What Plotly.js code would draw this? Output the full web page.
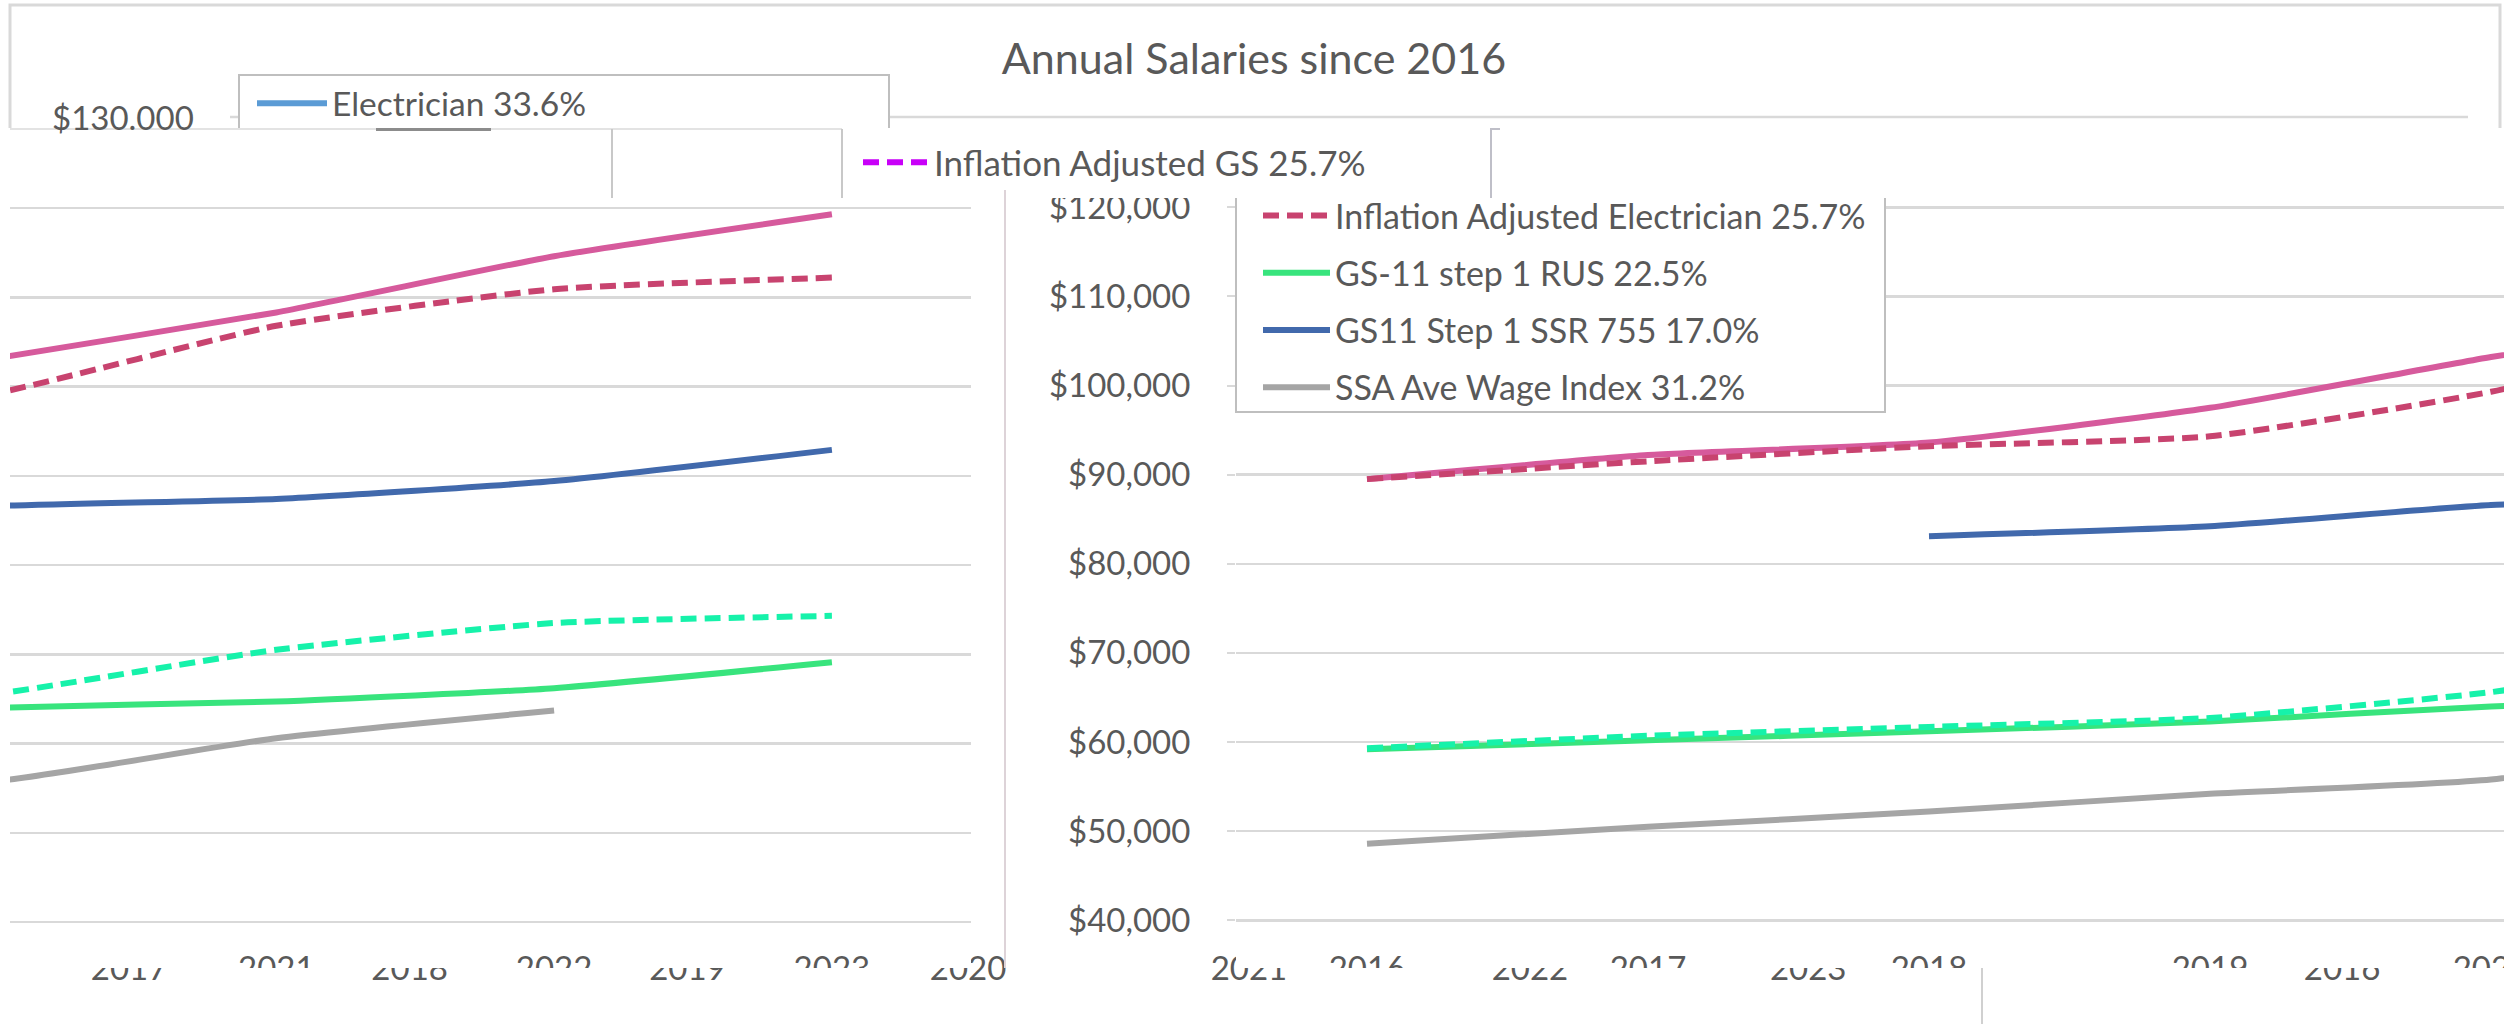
<!DOCTYPE html>
<html>
<head>
<meta charset="utf-8">
<script src="https://cdn.plot.ly/plotly-3.0.1.min.js"></script>
<style>html,body{margin:0;padding:0;background:#fff;}#chart{width:2504px;height:1024px;}</style>
</head>
<body>
<div id="chart"></div>
<script>
// ---------- data ----------
const years = [2016, 2017, 2018, 2019, 2020, 2021, 2022, 2023];
const electrician   = [89500, 92200, 93600, 97500, 103200, 108300, 114600, 119300];
const inflAdjElec   = [89500, 91500, 93200, 94300, 99300, 106800, 110900, 112200];
const gs11Rus       = [59200, 60200, 61200, 62300, 64000, 64700, 66200, 69100];
const inflAdjGS     = [59300, 60700, 61700, 62700, 65600, 70500, 73500, 74300];
const gs11Ssr       = [null, null, 83100, 84200, 86600, 87400, 89400, 92900];
const ssaWage       = [48600, 50500, 52200, 54200, 55800, 60600, 63700, null];

const leftTicks  = [2021, 2022, 2023];
const rightTicks = [2016, 2017, 2018, 2019, 2020];
const ghostLeftPos   = [2020.47, 2021.48, 2022.48, 2023.49];
const ghostLeftText  = ['2017', '2018', '2019', '2020'];
const ghostRightPos  = [2015.58, 2016.58, 2017.57, 2019.47];
const ghostRightText = ['2021', '2022', '2023', '2016'];

const names = {
  elec: 'Electrician 33.6%',
  inflGS: 'Inflation Adjusted GS 25.7%',
  inflElec: 'Inflation Adjusted Electrician 25.7%',
  rus: 'GS-11 step 1 RUS 22.5%',
  ssr: 'GS11 Step 1 SSR 755 17.0%',
  ssa: 'SSA Ave Wage Index 31.2%'
};

// ---------- geometry helpers ----------
const W = 2504, H = 1024;
const px = x => x / W;
const py = y => 1 - y / H;
const FONT = 'Lato, "Open Sans", sans-serif';
const TXT = '#595959';
const GRID = '#D9D9D9';

const colors = {
  elecPink: '#D65A9C', inflElec: '#C8436F', ssr: '#4169AC',
  rus: '#38E47D', inflGS: '#16F2AA', ssa: '#A5A5A5',
  legElec: '#5B9BD5', legInflGS: '#C800F8'
};
const LW = 6;
const DASH = '16px,8px';

function series(y, color, dash, name, xa, ya, extra) {
  return Object.assign({
    type: 'scatter', mode: 'lines', x: years, y: y, name: name,
    xaxis: xa, yaxis: ya, connectgaps: false, showlegend: false,
    line: {color: color, width: LW, dash: dash, shape: 'spline', smoothing: 0.5},
    hoverinfo: 'skip'
  }, extra || {});
}

const traces = [];
// left panel
traces.push(series(electrician, colors.elecPink, 'solid', names.elec, 'x', 'y'));
traces.push(series(inflAdjElec, colors.inflElec, DASH, names.inflElec, 'x', 'y'));
traces.push(series(gs11Ssr, colors.ssr, 'solid', names.ssr, 'x', 'y'));
traces.push(series(inflAdjGS, colors.inflGS, DASH, names.inflGS, 'x', 'y'));
traces.push(series(gs11Rus, colors.rus, 'solid', names.rus, 'x', 'y'));
traces.push(series(ssaWage, colors.ssa, 'solid', names.ssa, 'x', 'y'));
// right panel
traces.push(series(electrician, colors.elecPink, 'solid', names.elec, 'x2', 'y2'));
traces.push(series(inflAdjElec, colors.inflElec, DASH, names.inflElec, 'x2', 'y2',
  {showlegend: true, legend: 'legend3', legendgroup: 'g1'}));
traces.push(series(gs11Rus, colors.rus, 'solid', names.rus, 'x2', 'y2',
  {showlegend: true, legend: 'legend3', legendgroup: 'g2'}));
traces.push(series(gs11Ssr, colors.ssr, 'solid', names.ssr, 'x2', 'y2',
  {showlegend: true, legend: 'legend3', legendgroup: 'g3'}));
traces.push(series(ssaWage, colors.ssa, 'solid', names.ssa, 'x2', 'y2',
  {showlegend: true, legend: 'legend3', legendgroup: 'g4'}));
traces.push(series(inflAdjGS, colors.inflGS, DASH, names.inflGS, 'x2', 'y2'));
// legend-only entries of the overlapping legends
traces.push({type: 'scatter', mode: 'lines', x: [null], y: [null], xaxis: 'x', yaxis: 'y',
  name: names.elec, showlegend: true, legend: 'legend',
  line: {color: colors.legElec, width: LW}});
traces.push({type: 'scatter', mode: 'lines', x: [null], y: [null], xaxis: 'x', yaxis: 'y',
  name: names.inflGS, showlegend: true, legend: 'legend2',
  line: {color: colors.legInflGS, width: LW, dash: DASH}});

// ---------- axes ----------
const tickFont = {family: FONT, size: 33, color: TXT};
const XSTAND = 16;
const leftRange  = [2020 + 11.5 / 277.8, 2020 + 972.5 / 277.8];
const rightRange = [2016 - (1367 - 1236) / 281, 2016 + (2504 - 1367) / 281];
const yLeftRange  = [40000 - 8 / 8.925 * 1000, 120000 + 8 / 8.925 * 1000];
const yRightRange = [40000 - 9.7 / 8.9125 * 1000, 120000 + 7.3 / 8.9125 * 1000];
const yDomain = [py(930), py(200)];

function xAxis(domain, range, ticks, anchor) {
  return {domain: domain, range: range, anchor: anchor, tickmode: 'array', tickvals: ticks,
    ticktext: ticks.map(String), showgrid: false, zeroline: false, showline: false, ticks: '',
    tickfont: tickFont, ticklabelstandoff: XSTAND, ticklabeloverflow: 'allow', fixedrange: true};
}
function ghostAxis(over, anchor, range, pos, text) {
  return {overlaying: over, anchor: anchor, range: range, tickmode: 'array', tickvals: pos,
    ticktext: text, showgrid: false, zeroline: false, showline: false, ticks: '',
    tickfont: tickFont, ticklabelstandoff: XSTAND, ticklabeloverflow: 'allow', side: 'bottom'};
}

const legFont = s => ({family: FONT, size: s, color: TXT});

const layout = {
  width: W, height: H, margin: {l: 0, r: 0, t: 0, b: 0, pad: 0},
  paper_bgcolor: '#ffffff', plot_bgcolor: 'rgba(0,0,0,0)',
  showlegend: true,
  title: {text: 'Annual Salaries since 2016', x: px(1254), xanchor: 'center',
    y: py(59), yanchor: 'middle', font: {family: FONT, size: 43, color: TXT}},
  xaxis: xAxis([px(10), px(971)], leftRange, leftTicks, 'y'),
  xaxis2: xAxis([px(1236), 1], rightRange, rightTicks, 'y2'),
  xaxis3: ghostAxis('x', 'y', leftRange, ghostLeftPos, ghostLeftText),
  xaxis4: ghostAxis('x2', 'y2', rightRange, ghostRightPos, ghostRightText),
  yaxis: {domain: yDomain, range: yLeftRange, anchor: 'x', tickmode: 'linear', tick0: 40000,
    dtick: 10000, showgrid: true, gridcolor: GRID, gridwidth: 2.5, zeroline: false,
    showticklabels: false, ticks: '', showline: false},
  yaxis2: {domain: yDomain, range: yRightRange, anchor: 'x2', tickmode: 'linear', tick0: 40000,
    dtick: 10000, showgrid: true, gridcolor: GRID, gridwidth: 2.5, zeroline: false,
    ticks: 'outside', ticklen: 8, tickwidth: 2, tickcolor: GRID, showline: false,
    tickprefix: '$', tickformat: ',.0f', tickfont: tickFont, ticklabelstandoff: 30},
  legend: {x: px(252), y: py(75), xanchor: 'left', yanchor: 'top', bgcolor: 'rgba(0,0,0,0)',
    borderwidth: 0, font: legFont(33.5), itemwidth: 70},
  legend2: {x: px(858), y: py(133), xanchor: 'left', yanchor: 'top', bgcolor: 'rgba(0,0,0,0)',
    borderwidth: 0, font: legFont(35), itemwidth: 66},
  legend3: {x: px(1258), y: py(187), xanchor: 'left', yanchor: 'top', bgcolor: 'rgba(0,0,0,0)',
    borderwidth: 0, font: legFont(34), itemwidth: 67,
    traceorder: 'grouped', tracegroupgap: 10},
  annotations: [
    {xref: 'paper', yref: 'paper', x: px(196), y: py(117), xanchor: 'right', yanchor: 'middle',
     text: '$130.000', showarrow: false, font: {family: FONT, size: 33, color: TXT}}
  ],
  shapes: []
};

const S = layout.shapes;
function pline(x0, y0, x1, y1, color, width) {
  S.push({type: 'line', xref: 'paper', yref: 'paper', x0: px(x0), y0: py(y0), x1: px(x1), y1: py(y1),
    line: {color: color, width: width}, layer: 'above'});
}
function prect(x0, y0, x1, y1, fill, lineColor, lw) {
  S.push({type: 'rect', xref: 'paper', yref: 'paper', x0: px(x0), y0: py(y0), x1: px(x1), y1: py(y1),
    fillcolor: fill, line: {color: lineColor || 'rgba(0,0,0,0)', width: lw || 0}, layer: 'above'});
}
// title chart frame
S.push({type: 'path', xref: 'paper', yref: 'paper', layer: 'above',
  path: 'M ' + px(10) + ' ' + py(128) + ' L ' + px(10) + ' ' + py(5) + ' L ' + px(2500) + ' ' + py(5) +
        ' L ' + px(2500) + ' ' + py(128), line: {color: GRID, width: 3}});
pline(230, 117, 2468, 117, GRID, 2.5);
// legend boxes
prect(239, 75, 889, 140, '#ffffff', '#BFBFBF', 2);
prect(1236, 185, 1885, 412, '#ffffff', '#BFBFBF', 2);
// overlapping white band
prect(0, 128, W, 198, '#ffffff');
pline(10, 129, 842, 129, '#E3E3E3', 2);
pline(376, 129.5, 491, 129.5, '#8C8C8C', 3);
pline(612, 129, 612, 198, '#C8C8C8', 2);
pline(842, 129, 842, 198, '#C8C8C8', 2);
pline(1491, 128, 1491, 198, '#BFBFC8', 2);
pline(1491, 129, 1500, 129, '#BFBFC8', 2);
// separator between panels
pline(1005, 190, 1005, 968, '#DDD3D8', 2);

// label masks: main labels keep their top, ghost labels keep their bottom
function maskMain(xref, vals) {
  vals.forEach(v => S.push({type: 'rect', xref: xref, yref: 'paper', x0: v - 0.2, x1: v + 0.2,
    y0: py(1024), y1: py(968), fillcolor: '#ffffff', line: {width: 0}, layer: 'above'}));
}
function maskGhost(xref, vals) {
  vals.forEach(v => S.push({type: 'rect', xref: xref, yref: 'paper', x0: v - 0.2, x1: v + 0.2,
    y0: py(968), y1: py(935), fillcolor: '#ffffff', line: {width: 0}, layer: 'above'}));
}
maskMain('x', leftTicks);
maskMain('x2', rightTicks);
maskGhost('x3', ghostLeftPos);
maskGhost('x4', ghostRightPos);
pline(1982, 968, 1982, 1024, '#D0D0D0', 2);

Plotly.newPlot('chart', traces, layout, {displayModeBar: false, staticPlot: true});
</script>
</body>
</html>
